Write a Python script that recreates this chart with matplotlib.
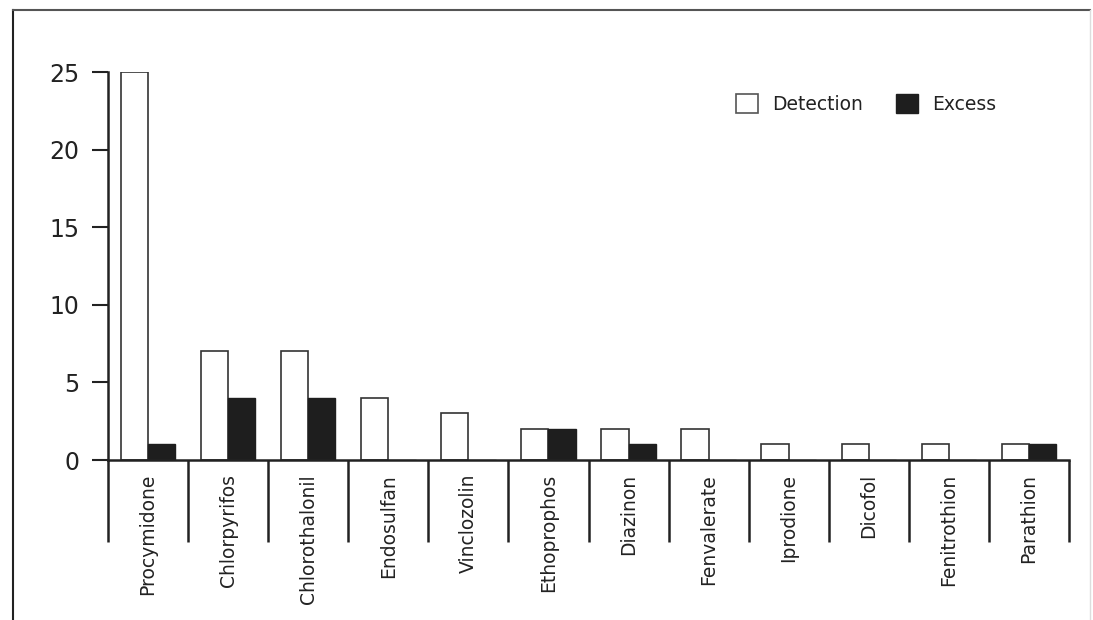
import matplotlib
matplotlib.use("Agg")
import matplotlib.pyplot as plt
from matplotlib.patches import Patch
from matplotlib.lines import Line2D
import numpy as np

categories = ["Procymidone", "Chlorpyrifos", "Chlorothalonil", "Endosulfan",
              "Vinclozolin", "Ethoprophos", "Diazinon", "Fenvalerate",
              "Iprodione", "Dicofol", "Fenitrothion", "Parathion"]
detection = [25, 7, 7, 4, 3, 2, 2, 2, 1, 1, 1, 1]
excess = [1, 4, 4, 0, 0, 2, 1, 0, 0, 0, 0, 1]
yticks = [0, 5, 10, 15, 20, 25]

plt.rcParams['font.family'] = ['DejaVu Sans']
W, H = 1093, 620
fig = plt.figure(figsize=(W / 100, H / 100), dpi=100)

left, right = 108 / W, 1069 / W
bottom, top = 1 - 460 / H, 1 - 72 / H
ax = fig.add_axes([left, bottom, right - left, top - bottom])

x = np.arange(len(categories))
bw = 0.34
ax.bar(x - bw / 2, detection, width=bw, facecolor='white', edgecolor='#333333',
       linewidth=1.2, label='Detection', zorder=2)
ax.bar(x + bw / 2, excess, width=bw, facecolor='#1e1e1e', edgecolor='#1e1e1e',
       linewidth=1.0, label='Excess', zorder=2)

ax.set_xlim(-0.5, len(categories) - 0.5)
ax.set_ylim(0, 25)
ax.set_yticks(yticks)
ax.set_yticklabels([str(v) for v in yticks], fontsize=17, color='#222222')
ax.tick_params(axis='y', direction='out', length=11.5, width=1.5, pad=9, color='#222222')

ax.set_xticks(x)
ax.set_xticklabels(categories, rotation=90, fontsize=13.5, color='#222222')
ax.tick_params(axis='x', which='major', length=0, pad=10)
ax.set_xticks(np.arange(len(categories) + 1) - 0.5, minor=True)
ax.tick_params(axis='x', which='minor', direction='out', length=59, width=1.8, color='#222222')

for s in ['top', 'right']:
    ax.spines[s].set_visible(False)
for s in ['left', 'bottom']:
    ax.spines[s].set_linewidth(1.8)
    ax.spines[s].set_color('#222222')

handles = [Patch(facecolor='white', edgecolor='#555555', linewidth=1.2),
           Patch(facecolor='#1e1e1e', edgecolor='#1e1e1e')]
fig.legend(handles, ['Detection', 'Excess'], loc='center',
           bbox_to_anchor=(866 / W, 1 - 104 / H), ncol=2, frameon=False,
           fontsize=13.5, handlelength=1.15, handleheight=1.15,
           handletextpad=0.75, columnspacing=1.8, labelcolor='#222222')

# outer frame of the scanned figure
fig.add_artist(Line2D([13 / W, 13 / W], [0, 1 - 10 / H], transform=fig.transFigure,
                      color='#222222', linewidth=1.5))
fig.add_artist(Line2D([13 / W, 1090 / W], [1 - 10 / H, 1 - 10 / H], transform=fig.transFigure,
                      color='#555555', linewidth=1.5))
fig.add_artist(Line2D([1090 / W, 1090 / W], [0, 1 - 10 / H], transform=fig.transFigure,
                      color='#dddddd', linewidth=1.0))

fig.savefig("out.png", dpi=100)
